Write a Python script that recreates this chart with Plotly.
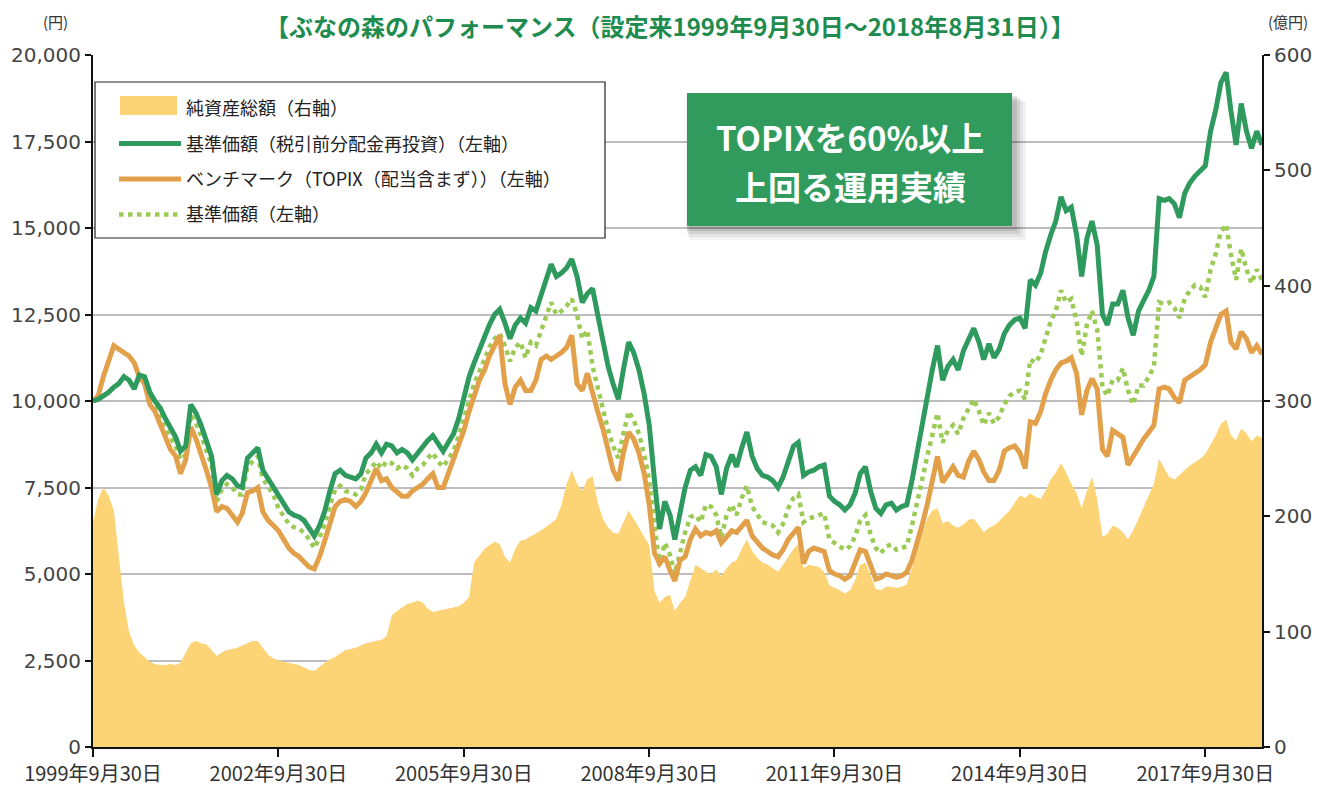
import pandas as pd
import plotly.graph_objects as go

# ---------------- data (monthly, month-end, 1999-09-30 .. 2018-08-31) ----------------
start_date = "1999-09-30"
end_date = "2018-08-31"

# 基準価額（税引前分配金再投資） 円
nav_reinvest = [
    10000, 10050, 10150, 10250, 10400, 10500, 10700, 10600, 10350, 10750, 10700, 10250,
    10000, 9800, 9500, 9250, 8950, 8550, 8700, 9900, 9650, 9300, 8850, 8400,
    7300, 7700, 7850, 7750, 7550, 7500, 8350, 8500, 8650, 8000, 7750, 7550,
    7300, 7050, 6800, 6700, 6650, 6550, 6350, 6100, 6400, 6800, 7400, 7900,
    8000, 7850, 7800, 7750, 7900, 8350, 8500, 8750, 8500, 8750, 8700, 8500,
    8600, 8500, 8300, 8500, 8650, 8850, 9000, 8750, 8550, 8800, 9050, 9500,
    10050, 10700, 11100, 11500, 11900, 12200, 12500, 12650, 12250, 11800, 12200, 12400,
    12250, 12700, 12600, 13100, 13600, 13950, 13600, 13700, 13850, 14100, 13600, 12850,
    13100, 13250, 12500, 11700, 11000, 10500, 10050, 10900, 11700, 11400, 10900, 10200,
    9300, 7700, 6300, 7100, 6700, 6000, 6800, 7500, 8000, 8100, 7850, 8450,
    8400, 8100, 7300, 8050, 8450, 8100, 8650, 9100, 8400, 8050, 7850, 7800,
    7700, 7500, 7800, 8300, 8700, 8800, 7850, 7950, 8000, 8100, 8150, 7250,
    7100, 7000, 6850, 7000, 7350, 7900, 8100, 7400, 6900, 6750, 7000, 7050,
    6850, 6950, 7000, 7700, 8600, 9300, 10100, 10900, 11600, 10600, 11000, 11200,
    10900, 11450, 11800, 12100, 11700, 11200, 11650, 11250, 11500, 11950, 12200, 12350,
    12400, 12100, 13500, 13350, 13700, 14300, 14800, 15200, 15900, 15500, 15600, 14800,
    13600, 14700, 15200, 14500, 12500, 12200, 12800, 12800, 13200, 12400, 11900, 12600,
    12900, 13200, 13600, 15850, 15800, 15850, 15700, 15300, 16000, 16300, 16500, 16650,
    16800, 17800, 18400, 19200, 19500, 18400, 17400, 18600, 17800, 17300, 17800, 17400,
]

# ベンチマーク（TOPIX（配当含まず）） 円換算
benchmark = [
    10000, 10150, 10700, 11200, 11600, 11500, 11400, 11300, 11100, 10700, 10500, 9900,
    9700, 9300, 9000, 8600, 8400, 7900, 8300, 9250, 8900, 8500, 8000, 7500,
    6800, 6950, 6900, 6700, 6500, 6750, 7350, 7400, 7500, 6800, 6550, 6400,
    6250, 6000, 5750, 5600, 5500, 5350, 5200, 5150, 5500, 5950, 6500, 6950,
    7100, 7150, 7100, 6950, 7100, 7350, 7700, 8050, 7700, 7750, 7500, 7350,
    7250, 7250, 7400, 7500, 7600, 7750, 7900, 7500, 7500, 7900, 8300, 8700,
    9150, 9700, 10200, 10600, 10900, 11300, 11600, 11900, 10500, 9900, 10400, 10600,
    10300, 10300, 10600, 11200, 11300, 11200, 11300, 11400, 11550, 11900, 10500, 10300,
    10800, 10200, 9700, 9200, 8600, 8000, 7700, 8500, 9100, 8900, 8500, 7900,
    7000, 5600, 5300, 5500, 5100, 4800, 5400, 5500, 6000, 6300, 6100, 6200,
    6150, 6250, 5900, 6050, 6250, 6200, 6400, 6550, 6100, 5900, 5750, 5650,
    5550, 5500, 5700, 6000, 6200, 6350, 5300, 5650, 5750, 5700, 5650, 5100,
    5000, 4950, 4850, 4950, 5350, 5700, 5650, 5200, 4850, 4900, 5000, 4950,
    4900, 4950, 5050, 5400, 5900, 6400, 7000, 7700, 8400, 7650, 7900, 8100,
    7850, 7800, 8250, 8550, 8300, 7950, 7700, 7700, 8000, 8550, 8650, 8700,
    8500, 8050, 9400, 9350, 9700, 10200, 10600, 10900, 11100, 11150, 11250, 10800,
    9600, 10300, 10650, 10350, 8600, 8400, 9150, 9050, 8950, 8150, 8400, 8700,
    8900, 9100, 9300, 10350, 10400, 10350, 10100, 9950, 10600, 10700, 10800, 10900,
    11050, 11700, 12100, 12500, 12600, 11700, 11500, 12000, 11800, 11400, 11600, 11350,
]

# 基準価額 円
nav = [
    10000, 10050, 10150, 10250, 10400, 10500, 10700, 10600, 10350, 10750, 10700, 10250,
    10000, 9500, 9200, 8950, 8700, 8300, 8450, 9600, 9350, 9000, 8600, 8150,
    7100, 7450, 7600, 7500, 7300, 7300, 8100, 8250, 8400, 7750, 7500, 7300,
    6900, 6650, 6450, 6350, 6300, 6200, 6000, 5750, 6050, 6450, 7000, 7450,
    7550, 7400, 7350, 7300, 7450, 7900, 8050, 8250, 8050, 8250, 8200, 8050,
    8150, 8050, 7850, 8050, 8150, 8350, 8500, 8250, 8100, 8300, 8550, 9000,
    9500, 10100, 10500, 10850, 11250, 11550, 11800, 11950, 11600, 11150, 11550, 11700,
    11250, 11700, 11600, 12050, 12500, 12850, 12500, 12600, 12750, 12950, 12500, 11800,
    12050, 11000, 10400, 9700, 9150, 8700, 8350, 9050, 9700, 9450, 9050, 8450,
    7700, 6400, 5250, 5900, 5550, 5000, 5650, 6200, 6650, 6700, 6500, 7000,
    6950, 6700, 6050, 6700, 7000, 6700, 7200, 7550, 6950, 6700, 6500, 6450,
    6400, 6200, 6450, 6900, 7200, 7300, 6500, 6600, 6650, 6700, 6750, 6000,
    5900, 5800, 5700, 5800, 6100, 6550, 6700, 6150, 5750, 5600, 5800, 5850,
    5700, 5750, 5800, 6400, 7150, 7700, 8400, 9050, 9650, 8800, 9150, 9300,
    9050, 9500, 9800, 10050, 9700, 9300, 9650, 9350, 9550, 9900, 10150, 10250,
    10300, 10050, 11200, 11100, 11350, 11850, 12300, 12600, 13200, 12850, 12950, 12300,
    11300, 12200, 12600, 12050, 10400, 10150, 10600, 10600, 10950, 10300, 9900, 10450,
    10450, 10700, 11000, 12850, 12800, 12850, 12700, 12400, 12950, 13200, 13350, 13300,
    13000, 13800, 14250, 14900, 15100, 14250, 13500, 14400, 13800, 13400, 13800, 13500,
]

# 純資産総額 億円
net_assets = [
    195, 215, 225, 218, 205, 165, 125, 100, 88, 82, 78, 74,
    72, 71, 71, 72, 71, 73, 82, 90, 92, 90, 89, 84,
    79, 82, 84, 85, 86, 88, 90, 92, 92, 86, 80, 77,
    75, 74, 73, 72, 71, 69, 67, 66, 70, 73, 76, 78,
    81, 84, 85, 86, 88, 90, 91, 92, 93, 96, 114, 118,
    121, 124, 125, 127, 125, 120, 117, 118, 119, 120, 121, 122,
    125, 130, 160, 166, 172, 175, 178, 176, 165, 160, 172, 179,
    180, 183, 185, 188, 191, 194, 198, 210, 228, 240, 228, 222,
    232, 235, 212, 198, 190, 186, 185, 195, 205, 198, 190, 182,
    175, 135, 125, 130, 132, 118, 125, 130, 145, 158, 155, 152,
    150, 154, 148, 155, 160, 162, 172, 180, 170, 164, 160, 158,
    155, 152, 158, 165, 172, 176, 155, 158, 157, 156, 152, 140,
    138, 136, 133, 136, 145, 158, 160, 148, 137, 136, 139, 139,
    138, 139, 141, 155, 172, 185, 198, 205, 207, 194, 196, 192,
    190, 193, 197, 198, 192, 186, 190, 192, 196, 200, 205, 212,
    218, 216, 220, 217, 215, 222, 232, 238, 246, 238, 228, 220,
    207, 222, 234, 215, 182, 185, 192, 190, 186, 180, 188, 198,
    208, 218, 228, 250, 242, 234, 232, 236, 240, 244, 247, 250,
    254, 262, 270, 280, 284, 270, 266, 276, 272, 265, 270, 268,
]

x_tick_dates = ["1999-09-30", "2002-09-30", "2005-09-30", "2008-09-30",
                "2011-09-30", "2014-09-30", "2017-09-30"]
x_tick_labels = ["1999年9月30日", "2002年9月30日", "2005年9月30日", "2008年9月30日",
                 "2011年9月30日", "2014年9月30日", "2017年9月30日"]
left_ticks = [0, 2500, 5000, 7500, 10000, 12500, 15000, 17500, 20000]
right_ticks = [0, 100, 200, 300, 400, 500, 600]

names = ["純資産総額（右軸）",
         "基準価額（税引前分配金再投資）（左軸）",
         "ベンチマーク（TOPIX（配当含まず））（左軸）",
         "基準価額（左軸）"]

title_text = "【ぶなの森のパフォーマンス（設定来1999年9月30日～2018年8月31日）】"
box_lines = ["TOPIXを60%以上", "上回る運用実績"]

# ---------------- styles ----------------
AREA = "#FCD375"
GREEN = "#2E9A5E"
ORANGE = "#E3A04A"
LGREEN = "#9CCB55"
TITLE_GREEN = "#1E8C4F"
BOX_GREEN = "#319B5E"
CJK = "Noto Sans CJK JP"
NUM = "DejaVu Sans"

try:
    dates = pd.date_range(start_date, end_date, freq="ME")
except Exception:
    dates = pd.date_range(start_date, end_date, freq="M")

fig = go.Figure()

# Net assets area on primary (right) axis -> drawn beneath the lines
fig.add_trace(go.Scatter(
    x=dates, y=net_assets, mode="lines", yaxis="y",
    line=dict(width=0, color=AREA), fill="tozeroy", fillcolor=AREA,
    showlegend=False, hoverinfo="skip"))
# legend entry for the area (its swatch is drawn as a frame shape below)
fig.add_trace(go.Scatter(
    x=[None], y=[None], mode="lines", yaxis="y",
    line=dict(width=0, color="rgba(0,0,0,0)"),
    name=names[0], legendrank=1, legendgroup="a"))

fig.add_trace(go.Scatter(
    x=dates, y=nav, mode="lines", yaxis="y2",
    line=dict(color=LGREEN, width=4.5, dash="dot"),
    name=names[3], legendrank=4, legendgroup="d"))
fig.add_trace(go.Scatter(
    x=dates, y=benchmark, mode="lines", yaxis="y2",
    line=dict(color=ORANGE, width=5),
    name=names[2], legendrank=3, legendgroup="c"))
fig.add_trace(go.Scatter(
    x=dates, y=nav_reinvest, mode="lines", yaxis="y2",
    line=dict(color=GREEN, width=5),
    name=names[1], legendrank=2, legendgroup="b"))

# page geometry (the page body has an 8px margin)
OFF = 8
PL, PR, PT, PB = 93, 1262, 55, 747      # plot area in page pixels
FW, FH = 1304, 778                      # figure size
ML, MT = PL - OFF, PT - OFF
MR = (OFF + FW) - PR
MB = (OFF + FH) - PB


def px_x(p):
    return (p - PL) / (PR - PL)


def px_y(p):
    return (PB - p) / (PB - PT)


shapes = []
# legend frame and area swatch
shapes.append(dict(type="rect", xref="paper", yref="paper",
                   x0=px_x(95), x1=px_x(605), y0=px_y(238), y1=px_y(82),
                   fillcolor="white", line=dict(width=1.2, color="#222"), layer="above"))
shapes.append(dict(type="rect", xref="paper", yref="paper",
                   x0=px_x(120), x1=px_x(177), y0=px_y(115), y1=px_y(96),
                   fillcolor=AREA, line=dict(width=0), layer="above"))
# soft shadow of the callout box
for k, op in [(14, 0.05), (11, 0.06), (8, 0.08), (5, 0.10)]:
    shapes.append(dict(type="rect", xref="paper", yref="paper",
                       x0=px_x(687 - 2 + k * 0.3), x1=px_x(1012 + k),
                       y0=px_y(226 + k), y1=px_y(93 + k * 0.6),
                       fillcolor=f"rgba(0,0,0,{op})", line=dict(width=0), layer="above"))
shapes.append(dict(type="rect", xref="paper", yref="paper",
                   x0=px_x(687), x1=px_x(1012), y0=px_y(226), y1=px_y(93),
                   fillcolor=BOX_GREEN, line=dict(width=0), layer="above"))

annotations = [
    dict(text="(円)", xref="paper", yref="paper", x=px_x(55), y=px_y(21),
         xanchor="center", yanchor="middle", showarrow=False,
         font=dict(family=CJK, size=15, color="#333")),
    dict(text="(億円)", xref="paper", yref="paper", x=px_x(1288), y=px_y(21),
         xanchor="center", yanchor="middle", showarrow=False,
         font=dict(family=CJK, size=15, color="#333")),
    dict(text="<b>" + title_text + "</b>", xref="paper", yref="paper",
         x=px_x(670), y=px_y(26), xanchor="center", yanchor="middle", showarrow=False,
         font=dict(family=CJK, size=24, color=TITLE_GREEN)),
    dict(text="<b>" + box_lines[0] + "</b>", xref="paper", yref="paper",
         x=px_x(850), y=px_y(137), xanchor="center", yanchor="middle", showarrow=False,
         font=dict(family=CJK, size=33, color="white")),
    dict(text="<b>" + box_lines[1] + "</b>", xref="paper", yref="paper",
         x=px_x(850), y=px_y(186), xanchor="center", yanchor="middle", showarrow=False,
         font=dict(family=CJK, size=33, color="white")),
]

fig.update_layout(
    width=FW, height=FH,
    margin=dict(l=ML, r=MR, t=MT, b=MB, pad=0),
    paper_bgcolor="white", plot_bgcolor="white",
    font=dict(family=CJK, size=18, color="#333"),
    showlegend=True,
    legend=dict(x=px_x(114), y=px_y(90), xanchor="left", yanchor="top",
                bgcolor="rgba(0,0,0,0)", borderwidth=0,
                font=dict(family=CJK, size=18, color="#222"),
                itemwidth=62, traceorder="grouped", tracegroupgap=9,
                itemclick=False, itemdoubleclick=False),
    xaxis=dict(type="date", range=[dates[0], dates[-1]],
               tickvals=x_tick_dates, ticktext=x_tick_labels,
               ticks="outside", ticklen=8, tickwidth=1.5, tickcolor="#111",
               showline=True, linecolor="#111", linewidth=2,
               showgrid=False, zeroline=False, automargin=False,
               tickfont=dict(family=CJK, size=20, color="#333")),
    yaxis=dict(side="right", range=[0, 600], tickvals=right_ticks,
               ticks="outside", ticklen=6, tickwidth=1.5, tickcolor="#111",
               showline=True, linecolor="#111", linewidth=2,
               showgrid=False, zeroline=False, automargin=False,
               tickfont=dict(family=NUM, size=20, color="#444")),
    yaxis2=dict(overlaying="y", side="left", range=[0, 20000], tickvals=left_ticks,
                tickformat=",d", ticks="outside", ticklen=6, tickwidth=1.5, tickcolor="#111",
                showline=True, linecolor="#111", linewidth=2, automargin=False,
                showgrid=True, gridcolor="#BDBDBD", gridwidth=2, zeroline=False,
                tickfont=dict(family=NUM, size=20, color="#444")),
    shapes=shapes,
    annotations=annotations,
)

fig.write_html("out.html")
